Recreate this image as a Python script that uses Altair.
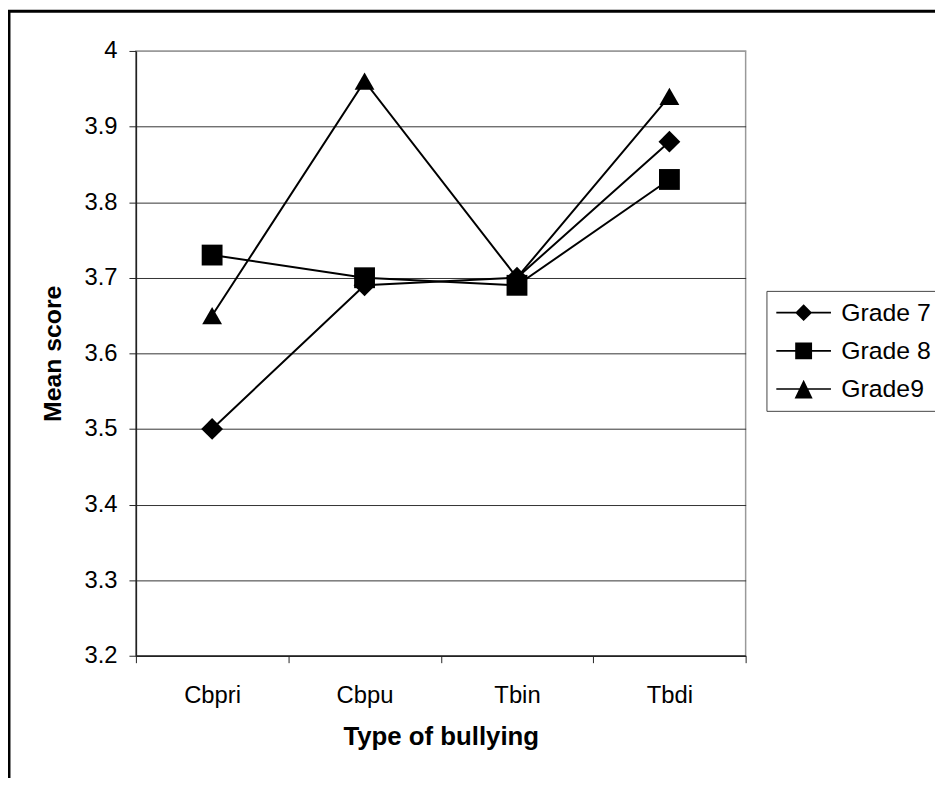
import altair as alt
import pandas as pd

categories = ["Cbpri", "Cbpu", "Tbin", "Tbdi"]
series_names = ["Grade 7", "Grade 8", "Grade9"]
grade7 = [3.50, 3.69, 3.70, 3.88]
grade8 = [3.73, 3.70, 3.69, 3.83]
grade9 = [3.65, 3.96, 3.70, 3.94]
y_ticks = [3.2, 3.3, 3.4, 3.5, 3.6, 3.7, 3.8, 3.9, 4.0]

rows = []
for name, vals in zip(series_names, [grade7, grade8, grade9]):
    for c, v in zip(categories, vals):
        rows.append({"type": c, "series": name, "score": v})
df = pd.DataFrame(rows)

W, H = 615, 610
FONT = "Liberation Sans"

# legend symbols: thin line with a marker in the middle (custom SVG paths, unit = 13px)
LINE = "M-2.12,-0.065H2.12V0.065H-2.12Z"
legend_paths = [
    LINE + "M0,-0.654L0.654,0L0,0.654L-0.654,0Z",
    LINE + "M-0.654,-0.654H0.654V0.654H-0.654Z",
    LINE + "M0,-0.72L0.7,0.74L-0.7,0.74Z",
]

x_enc = alt.X(
    "type:N",
    sort=categories,
    scale=alt.Scale(domain=categories, paddingInner=0, paddingOuter=0),
    axis=alt.Axis(
        title="Type of bullying",
        labelAngle=0,
        tickBand="extent",
        tickSize=7,
        tickColor="#222",
        domainColor="#222",
        domainWidth=1.5,
        labelFontSize=24,
        labelPadding=21,
        labelColor="black",
        titleFontSize=26,
        titleFontWeight="bold",
        titleColor="black",
        titlePadding=17,
        grid=False,
    ),
)

y_enc = alt.Y(
    "score:Q",
    scale=alt.Scale(domain=[3.2, 4.0], nice=False, zero=False),
    axis=alt.Axis(
        values=y_ticks,
        format=".1~f",
        title="Mean score",
        tickSize=7,
        tickColor="#222",
        domainColor="#222",
        domainWidth=1.5,
        labelFontSize=24,
        labelPadding=12,
        labelColor="black",
        grid=True,
        gridColor={"condition": {"test": "datum.value >= 3.99", "value": "#999"}, "value": "#333"},
        gridWidth=1,
        titleFontSize=25,
        titleFontWeight="bold",
        titleColor="black",
        titleAngle=270,
        titleX=-76,
        titleY=305,
        titleAlign="center",
        titleBaseline="alphabetic",
    ),
)

base = alt.Chart(df)

lines = base.mark_line(color="black", strokeWidth=2).encode(
    x=x_enc, y=y_enc, detail="series:N"
)

points = base.mark_point(filled=True, color="black", opacity=1).encode(
    x=x_enc,
    y=y_enc,
    shape=alt.Shape(
        "series:N",
        scale=alt.Scale(domain=series_names, range=["diamond", "square", "triangle-up"]),
        legend=None,
    ),
    size=alt.Size(
        "series:N",
        scale=alt.Scale(domain=series_names, range=[484, 400, 520]),
        legend=None,
    ),
)

legend_layer = base.transform_filter("datum.score < 0").mark_point(
    filled=True, color="black", size=676, opacity=1
).encode(
    x=x_enc,
    y=y_enc,
    shape=alt.Shape(
        "series:N",
        scale=alt.Scale(domain=series_names, range=legend_paths),
        legend=alt.Legend(
            title=None,
            orient="none",
            legendX=636,
            legendY=242,
            labelFont=FONT,
            labelFontSize=25,
            labelColor="black",
            labelOffset=25,
            symbolOffset=15.5,
            symbolSize=676,
            symbolStrokeWidth=0,
            symbolFillColor="black",
            symbolOpacity=1,
            strokeColor="#444",
            fillColor="white",
            padding=9,
            rowPadding=12.5,
        ),
    ),
)

frame = alt.Chart(pd.DataFrame({"a": [0]})).mark_rect(
    fill="transparent", stroke="black", strokeWidth=3
).encode(
    x=alt.value(-128),
    x2=alt.value(W + 400),
    y=alt.value(-40),
    y2=alt.value(H + 400),
)

chart = (
    alt.layer(lines, points, legend_layer, frame)
    .resolve_scale(shape="independent", size="independent")
    .properties(
        width=W,
        height=H,
        padding={"left": 129, "top": 40, "right": 191, "bottom": 120},
        autosize=alt.AutoSizeParams(type="none"),
        background="white",
    )
    .configure(font=FONT)
    .configure_view(stroke="#999", strokeWidth=1.5)
)

chart.save("out.html", embed_options={"renderer": "svg", "actions": False})
